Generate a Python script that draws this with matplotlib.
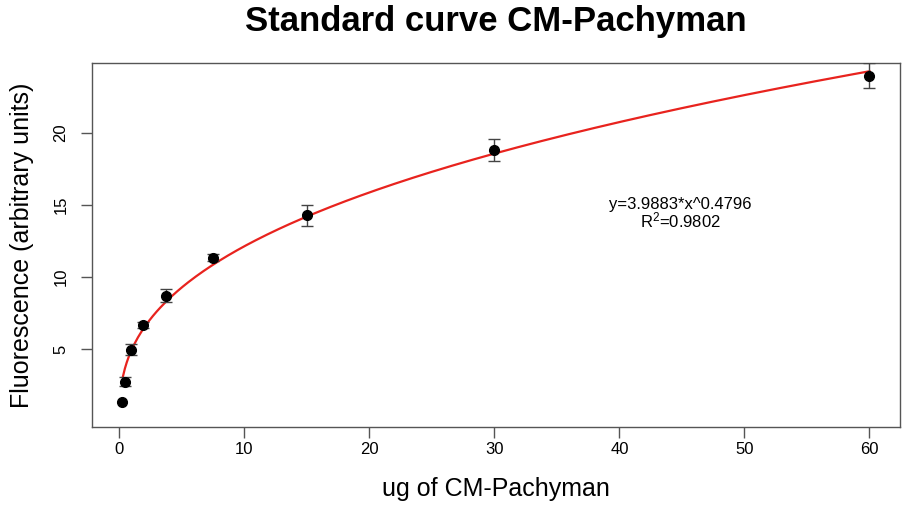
import matplotlib
matplotlib.use('Agg')
import matplotlib.pyplot as plt
import numpy as np

plt.rcParams['font.family'] = ['Liberation Sans', 'DejaVu Sans']
plt.rcParams['mathtext.fontset'] = 'custom'
plt.rcParams['mathtext.rm'] = 'Liberation Sans'
plt.rcParams['mathtext.it'] = 'Liberation Sans'

## data
ug = [0.234, 0.469, 0.9375, 1.875, 3.75, 7.5, 15, 30, 60]
fluor = [1.32, 2.75, 4.95, 6.69, 8.70, 11.34, 14.29, 18.84, 23.98]
# first point has no visible error bar
fluor_err = [np.nan, 0.33, 0.38, 0.2, 0.45, 0.25, 0.74, 0.75, 0.85]

# fitted curve as drawn (power law)
fit_a = 4.98
fit_b = 0.387
fit_from = 0.3

x_ticks = [0, 10, 20, 30, 40, 50, 60]
y_ticks = [5, 10, 15, 20]

fig = plt.figure(figsize=(9.08, 5.08), dpi=100)
ax = fig.add_axes([92/908, 1-427/508, (900-92)/908, (427-63)/508])

xs = np.linspace(fit_from, max(ug), 400)
ax.plot(xs, fit_a * xs**fit_b, color='#e8231e', lw=1.6, zorder=2)

ax.errorbar(ug, fluor, yerr=fluor_err, fmt='none', ecolor='#444444',
            elinewidth=1, capsize=4.5, capthick=1, zorder=3)
ax.plot(ug, fluor, 'o', color='black', markersize=7, zorder=4)

ax.set_xlim(-2.18, 62.44)
ax.set_ylim(-0.40, 24.86)
ax.set_xticks(x_ticks)
ax.set_yticks(y_ticks)
ax.tick_params(axis='both', length=8, width=1, color='#555555', labelsize=12)
ax.tick_params(axis='x', pad=3)
ax.tick_params(axis='y', pad=9)
for lab in ax.get_yticklabels():
    lab.set_rotation(90)
    lab.set_va('center')
for s in ax.spines.values():
    s.set_color('#555555')
    s.set_linewidth(1)

ax.text(44.9, 15.05, 'y=3.9883*x^0.4796', ha='center', va='center', fontsize=12)
ax.text(44.9, 13.95, r'R$^{2}$=0.9802', ha='center', va='center', fontsize=12)

ax.set_xlabel('ug of CM-Pachyman', fontsize=18, labelpad=14)
ax.set_ylabel('Fluorescence (arbitrary units)', fontsize=18, labelpad=14)
fig.text(496/908, 1-22/508, 'Standard curve CM-Pachyman', fontsize=25,
         fontweight='bold', ha='center', va='center')

plt.savefig('out.png', dpi=100)
plt.close('all')
